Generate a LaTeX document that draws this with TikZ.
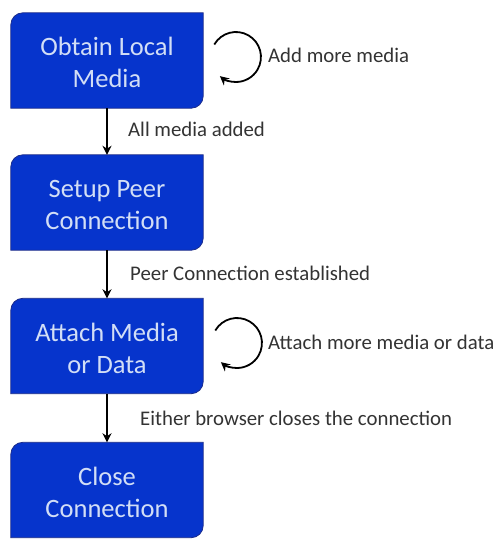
\documentclass[tikz,border=0pt]{standalone}
\usepackage{fontspec}
\setmainfont{Carlito}
\usetikzlibrary{arrows.meta}
\pgfdeclarelayer{background}
\pgfsetlayers{background,main}
\definecolor{stageblue}{HTML}{0634CC}
\definecolor{stageedge}{HTML}{1B2C8C}
\definecolor{stagetext}{HTML}{D2DEF6}
\definecolor{notegray}{HTML}{333333}

\tikzset{
  stage/.style={minimum width=192pt, minimum height=95pt, inner sep=0pt,
    align=center, text=stagetext, font=\fontsize{26.5}{32}\selectfont},
  note/.style={anchor=west, inner sep=0pt, text=notegray,
    font=\fontsize{20.8}{24}\selectfont},
  flow/.style={-{Stealth[length=9pt,width=9pt]}, line width=1.8pt},
  selfloop/.style={-{Stealth[length=9pt,width=9pt]}, line width=1.8pt},
  plate/.style={fill=stageblue, draw=stageedge, line width=0.8pt},
  plateshadow/.style={fill=black!30, opacity=0.45},
}

% box with rounded top-left and bottom-right corners
\newcommand\stageplate[2]{%
  \path[#2] ([yshift=-12pt]#1.north west)
    arc[start angle=180, end angle=90, radius=12pt]
    -- (#1.north east) -- ([yshift=12pt]#1.south east)
    arc[start angle=0, end angle=-90, radius=12pt]
    -- (#1.south west) -- cycle;}

% two centred lines, drawn a little below the box centre
\newcommand\twolines[2]{\raisebox{-5pt}[\height][\depth]{\begin{tabular}{@{}c@{}}#1\\#2\end{tabular}}}

\begin{document}
\begin{tikzpicture}[x=1pt, y=-1pt]
  \useasboundingbox (0,0) rectangle (501,539);

  \node[stage] (obtain) at (107,60.5) {\twolines{Obtain Local}{Media}};
  \node[stage] (setup)  at (107,202.5) {\twolines{Setup Peer}{Connection}};
  \node[stage] (attach) at (107,346) {\twolines{Attach Media}{or Data}};
  \node[stage] (close)  at (107,490) {\twolines{Close}{Connection}};

  \begin{pgfonlayer}{background}
    \foreach \b in {obtain,setup,attach,close}{
      \begin{scope}[shift={(1.5,2.5)}]
        \stageplate{\b}{plateshadow}
      \end{scope}
      \stageplate{\b}{plate}
    }
  \end{pgfonlayer}

  % transitions between stages
  \draw[flow] (obtain) -- (setup);
  \draw[flow] (setup) -- (attach);
  \draw[flow] (attach) -- (close);

  \node[note] (lbl1) at (128,129) {All media added};
  \node[note] (lbl2) at (130,273) {Peer Connection established};
  \node[note] (lbl4) at (140,418) {Either browser closes the connection};

  % repeat loops beside the first and third stage
  \coordinate (loopA) at (214.3,44.5);
  \coordinate (loopB) at (215.3,330.5);
  \draw[selfloop] (loopA) arc[start angle=150, end angle=-130, radius=25pt];
  \draw[selfloop] (loopB) arc[start angle=150, end angle=-130, radius=25pt];

  \node[note] (lbl0) at (268,55) {Add more media};
  \node[note] (lbl3) at (268,342) {Attach more media or data};
\end{tikzpicture}
\end{document}
